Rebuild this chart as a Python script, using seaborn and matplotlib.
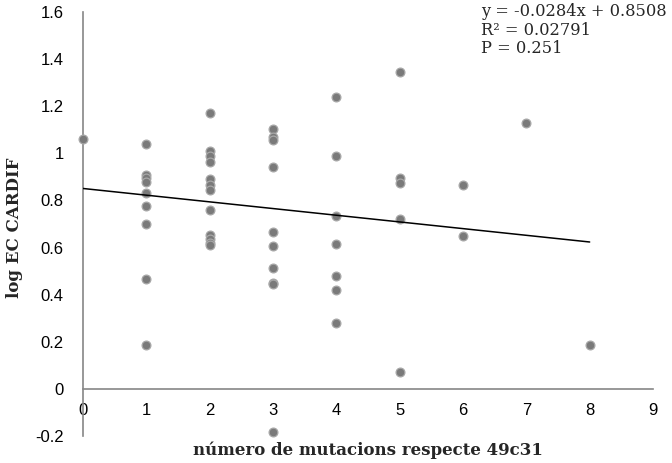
"""
log EC CARDIF vs número de mutacions (scatter + recta de regressió)
"""

import numpy as np
import pandas as pd
import matplotlib
matplotlib.use('Agg')
import matplotlib.pyplot as plt
import seaborn as sns
from matplotlib.ticker import FuncFormatter

# Dades llegides del gràfic
mutacions = [0,
             1, 1, 1, 1, 1, 1, 1, 1, 1,
             2, 2, 2, 2, 2, 2, 2, 2, 2, 2, 2, 2,
             3, 3, 3, 3, 3, 3, 3, 3, 3, 3,
             4, 4, 4, 4, 4, 4, 4,
             5, 5, 5, 5, 5,
             6, 6,
             7,
             8]
log_ec = [1.06,
          1.04, 0.91, 0.895, 0.88, 0.83, 0.775, 0.70, 0.465, 0.185,
          1.17, 1.01, 0.99, 0.965, 0.89, 0.865, 0.845, 0.76, 0.655, 0.635, 0.62, 0.61,
          1.105, 1.07, 1.055, 0.94, 0.665, 0.605, 0.515, 0.45, 0.445, -0.185,
          1.24, 0.99, 0.735, 0.615, 0.48, 0.42, 0.28,
          1.345, 0.895, 0.875, 0.72, 0.07,
          0.865, 0.65,
          1.13,
          0.185]

pendent = -0.0284
ordenada = 0.8508
r2_text = '0.02791'
p_text = '0.251'

x_ticks = list(range(0, 10))
y_ticks = [-0.2, 0, 0.2, 0.4, 0.6, 0.8, 1.0, 1.2, 1.4, 1.6]


def main():
    sns.set_style('white')
    plt.rcParams['axes.unicode_minus'] = False
    plt.rcParams['font.family'] = ['Liberation Sans', 'DejaVu Sans']

    df = pd.DataFrame({'x': mutacions, 'y': log_ec})

    fig = plt.figure(figsize=(6.72, 4.63), dpi=100)
    ax = fig.add_axes([83 / 672, 1 - 436 / 463, 570 / 672, 424 / 463])

    sns.scatterplot(data=df, x='x', y='y', ax=ax, s=40, color='#7a7a7a',
                    edgecolor='#a8a8a8', linewidth=0.9, clip_on=False, zorder=3)

    # recta de regressió
    xr = np.array([min(mutacions), max(mutacions)], dtype=float)
    sns.lineplot(x=xr, y=pendent * xr + ordenada, ax=ax, color='black', linewidth=1.1, zorder=4)

    ax.set_xlim(0, 9)
    ax.set_ylim(-0.2, 1.6)
    ax.set_xticks(x_ticks)
    ax.set_yticks(y_ticks)
    ax.yaxis.set_major_formatter(FuncFormatter(lambda v, p: f'{v:g}'))
    ax.tick_params(axis='both', length=0, labelsize=12, colors='black')
    ax.tick_params(axis='x', pad=10)
    ax.tick_params(axis='y', pad=14)

    for s in ['top', 'right']:
        ax.spines[s].set_visible(False)
    ax.spines['bottom'].set_position(('data', 0))
    for s in ['left', 'bottom']:
        ax.spines[s].set_color('#868686')
        ax.spines[s].set_linewidth(1.2)

    serif = ['DejaVu Serif']
    ax.set_xlabel('')
    ax.set_ylabel('')
    fig.text(368 / 672, 1 - 450 / 463, 'número de mutacions respecte 49c31', ha='center', va='center',
             fontsize=12, fontweight='bold', family=serif)
    fig.text(15 / 672, 1 - 228 / 463, 'log EC CARDIF', ha='center', va='center', rotation=90,
             fontsize=12, fontweight='bold', family=serif)

    eq = f'y = {pendent}x + {ordenada}\nR² = {r2_text}\nP = {p_text}'
    fig.text(481 / 672, 1 - 3 / 463, eq, ha='left', va='top', fontsize=11.7,
             family=serif, linespacing=1.12)

    ax.grid(False)
    fig.savefig('out.png', dpi=100)
    plt.close('all')


if __name__ == '__main__':
    main()
